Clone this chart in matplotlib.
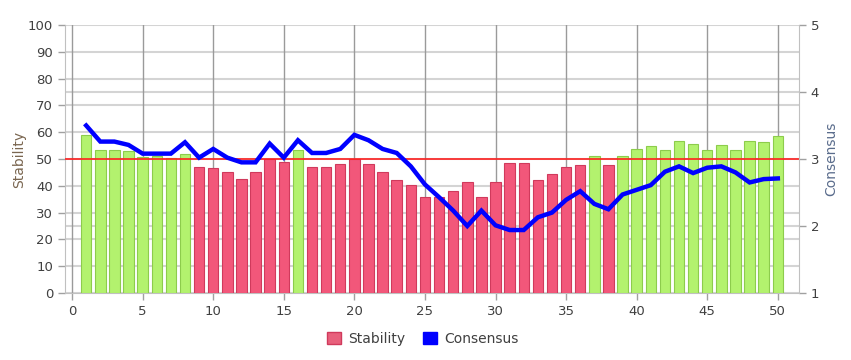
import numpy as np
import matplotlib.pyplot as plt
from matplotlib.patches import Patch
from matplotlib.lines import Line2D

# data
runs = list(range(1, 51))
stability = [58.9, 53.2, 53.2, 52.8, 50.6, 51.0, 50.5, 51.9, 47.2, 46.7,
             45.3, 42.5, 45.0, 50.0, 48.7, 53.2, 47.2, 47.2, 48.2, 50.0,
             48.2, 45.3, 42.1, 40.2, 35.7, 35.7, 37.9, 41.6, 36.0, 41.6,
             48.6, 48.6, 42.1, 44.5, 47.2, 47.7, 51.1, 47.7, 51.1, 53.7,
             54.7, 53.3, 56.9, 55.5, 53.3, 55.2, 53.3, 56.9, 56.5, 58.4]
consensus = [3.50, 3.26, 3.26, 3.21, 3.08, 3.08, 3.08, 3.25, 3.02, 3.15,
             3.02, 2.95, 2.95, 3.23, 3.02, 3.28, 3.09, 3.09, 3.15, 3.36,
             3.28, 3.15, 3.09, 2.89, 2.62, 2.43, 2.23, 2.00, 2.23, 2.01,
             1.94, 1.94, 2.13, 2.20, 2.39, 2.52, 2.33, 2.25, 2.47, 2.54,
             2.61, 2.81, 2.89, 2.79, 2.87, 2.89, 2.80, 2.65, 2.70, 2.71]
threshold = 50

text_col = '#404040'
grid_col = '#d4d4d4'

fig = plt.figure(figsize=(8.51, 3.6), dpi=100)
ax = fig.add_axes([65 / 851, 1 - 293 / 360, (799 - 65) / 851, (293 - 25) / 360])
ax2 = ax.twinx()

# bars coloured by threshold
face = ['#b3f26e' if v > threshold else '#f2577a' for v in stability]
edge = ['#8dcc4c' if v > threshold else '#d03a5c' for v in stability]
ax.bar(runs, stability, width=0.74, color=face, edgecolor=edge, linewidth=0.8, zorder=3)
ax.axhline(threshold, color='#ff2020', lw=1.2, zorder=4)

ax.set_xlim(-0.5, 51.5)
ax.set_ylim(0, 100)
ax.set_yticks(range(0, 101, 10))
ax.set_xticks(range(0, 51, 5))

# horizontal grid (left + right ticks), vertical grid darker
for y in list(range(0, 101, 10)) + [25, 75]:
    ax.axhline(y, color=grid_col, lw=1.5, zorder=1)
for x in range(0, 51, 5):
    ax.axvline(x, color='#9a9a9a', lw=1.0, zorder=1.5)

ax2.plot(runs, consensus, color='#0000ff', lw=3.2, zorder=5, solid_joinstyle='miter')
ax2.set_ylim(1, 5)
ax2.set_yticks([1, 2, 3, 4, 5])
ax.set_zorder(ax2.get_zorder() - 1)
ax.patch.set_visible(True)
ax2.patch.set_visible(False)

for a in (ax, ax2):
    for s in a.spines.values():
        s.set_visible(False)
    a.tick_params(colors='#a0a0a0', labelcolor=text_col, labelsize=9.5, length=5, width=1)
ax.spines['left'].set_visible(True)
ax.spines['left'].set_color('#c0c0c0')
ax.spines['bottom'].set_visible(True)
ax.spines['bottom'].set_color('#c0c0c0')
ax2.spines['right'].set_visible(True)
ax2.spines['right'].set_color('#c0c0c0')

ax.set_ylabel('Stability', color='#7a6650', fontsize=10)
ax2.set_ylabel('Consensus', color='#5a6c8c', fontsize=10)
ax.yaxis.set_label_coords(-0.053, 0.5)
ax2.yaxis.set_label_coords(1.034, 0.5)

handles = [Patch(facecolor='#e8607c', edgecolor='#d03a5c', label='Stability'),
           Patch(facecolor='#0000ff', edgecolor='#0000ff', label='Consensus')]
fig.legend(handles=handles, loc='center', bbox_to_anchor=(423 / 851, 1 - 339 / 360),
           ncol=2, frameon=False, fontsize=10, handlelength=1.0, handleheight=1.0,
           handletextpad=0.5, columnspacing=1.3, labelcolor=text_col)

fig.savefig('out.png', dpi=100)
